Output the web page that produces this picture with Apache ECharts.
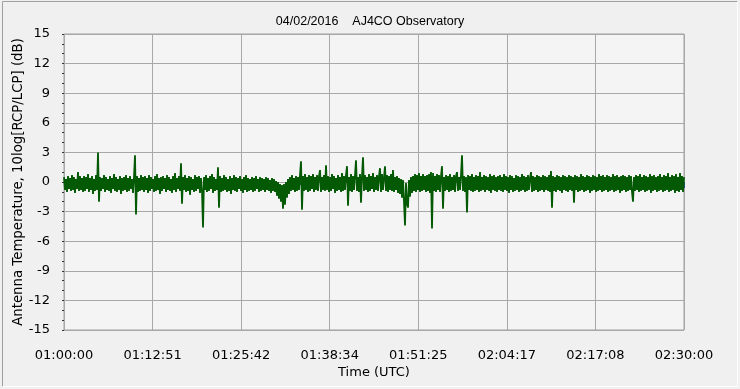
<!DOCTYPE html>
<html>
<head>
<meta charset="utf-8">
<script src="https://cdn.jsdelivr.net/npm/echarts@6/dist/echarts.min.js"></script>
<style>
html,body{margin:0;padding:0;background:#f0f0f0;}
#chart{width:740px;height:389px;}
</style>
</head>
<body>
<div id="chart"></div>
<script>
// Chart text
var titleText = '04/02/2016    AJ4CO Observatory';
var yAxisTitle = 'Antenna Temperature, 10log[RCP/LCP] (dB)';
var xAxisTitle = 'Time (UTC)';
var startTime = '01:00:00';
var spanSeconds = 5400;           // 01:00:00 -> 02:30:00
var xTickCount = 7;               // label intervals
var yMin = -15, yMax = 15, yStep = 3;

// Antenna temperature (dB), evenly sampled from 01:00:00 to 02:30:00
var values = [
0.5,-0.8,0.3,-1.0,0.6,-0.7,0.4,-0.9,0.7,-0.8,0.5,-1.1,0.3,-0.7,1.0,-0.9,0.6,-0.8,0.4,-1.0,
0.6,-0.9,0.5,-0.7,0.8,-1.0,0.4,-0.8,0.6,-1.2,0.3,-0.9,0.7,-0.8,3.0,-2.0,0.5,-0.9,0.4,-0.7,
0.7,-1.0,0.5,-0.8,0.3,-0.9,0.6,-1.1,0.4,-0.7,0.8,-0.9,0.5,-1.0,0.3,-0.8,0.6,-1.2,0.4,-0.9,
0.5,-0.8,0.7,-1.0,0.4,-0.9,0.6,-0.7,0.3,-1.1,0.5,2.7,-3.3,0.6,-1.0,0.4,-0.9,0.7,-0.8,0.5,
-1.0,0.6,-0.8,0.4,-1.1,0.7,-0.9,0.5,-0.7,0.3,-1.0,0.6,-0.9,0.8,-0.8,0.4,-1.2,0.5,-0.9,0.6,
-0.7,0.4,-1.0,0.7,-0.8,0.5,-0.9,0.3,-1.1,0.6,-0.8,0.9,-1.0,0.4,-0.7,0.6,-0.9,1.9,-2.2,0.5,
-0.8,0.7,-1.0,0.4,-0.9,0.6,-1.3,0.5,-0.8,0.3,-1.0,0.7,-0.9,0.5,-0.7,0.6,-1.1,0.4,-0.9,-4.6,
0.5,-0.8,0.7,-1.0,0.4,-0.9,0.6,-0.7,0.8,-1.1,0.5,-0.9,0.3,-0.8,1.5,-2.6,0.6,-1.0,0.4,-0.9,
0.7,-0.8,0.5,-1.0,0.3,-0.9,0.6,-1.2,0.4,-0.8,0.7,-0.9,0.5,-1.0,0.4,-0.7,0.6,-0.9,0.3,-1.1,
0.5,-0.8,0.7,-1.0,0.4,-0.9,0.3,-0.8,0.5,-1.0,0.4,-0.9,0.6,-0.7,0.3,-1.0,0.5,-0.9,0.4,-0.8,
0.3,-1.0,0.5,-0.8,0.4,-0.9,0.2,-1.1,0.4,-0.9,0.3,-1.0,0.1,-1.4,0.0,-1.7,-0.2,-2.0,-0.3,-2.7,
-0.2,-2.3,0.0,-1.6,0.3,-1.2,0.5,-0.9,0.7,-0.8,0.4,-1.0,0.6,-0.9,0.5,-0.8,0.7,2.1,-2.8,0.6,
-0.9,0.8,-0.8,0.5,-1.0,0.7,-0.9,0.6,-0.7,0.8,-1.0,0.5,-0.8,0.7,-0.9,0.6,1.2,-1.0,0.5,-0.8,
0.7,-0.9,1.7,-0.8,0.6,-1.0,0.5,-0.9,0.8,-0.7,0.6,-1.1,0.4,-0.9,0.7,-0.8,0.5,-1.0,0.9,-0.9,
0.6,-0.8,0.7,1.6,-2.4,0.5,-0.9,0.8,-1.0,0.6,-0.8,0.7,2.2,-0.9,0.5,-1.0,0.8,-2.1,0.6,2.5,
-0.9,0.7,-0.8,0.5,-1.0,0.8,-0.9,0.6,-0.7,0.9,-1.0,0.5,-0.8,0.7,-0.9,0.6,1.4,-1.0,0.8,-0.8,
0.5,1.6,-0.9,0.7,-1.0,0.6,-0.8,0.8,-0.9,1.2,-1.0,0.5,-0.8,0.6,-1.1,0.4,-1.2,0.3,-1.6,0.2,
-2.0,-4.4,-0.1,-2.2,-2.6,0.2,-1.5,0.5,-1.1,0.6,-0.9,0.8,-1.0,0.7,-0.8,0.9,-1.0,0.6,-0.9,0.8,
-0.8,0.6,-1.0,0.7,-0.9,0.8,-1.1,1.0,-4.7,0.9,-0.9,0.6,-1.0,0.8,-0.8,0.7,-1.0,0.6,1.6,-2.7,
0.5,-0.9,0.7,-0.8,0.6,-1.0,0.8,-0.9,0.5,-0.8,0.7,-1.0,0.6,1.0,-0.9,0.5,-0.8,0.7,2.7,-0.9,
0.6,-1.0,0.5,-3.1,0.7,-0.8,0.6,-0.9,0.8,-1.0,0.5,-0.9,0.7,-0.8,0.6,-1.0,1.0,-0.9,0.5,-0.8,
0.7,-1.0,0.6,-0.8,0.5,-0.9,0.8,-1.1,0.6,-0.8,0.7,-0.9,0.5,-1.0,0.6,-0.8,0.7,-0.9,0.5,-1.0,
0.8,-0.8,0.6,-0.9,0.5,-1.1,0.7,-0.8,0.6,-1.0,0.4,-0.9,0.7,-0.8,0.6,-1.0,0.5,-0.9,0.8,-0.8,
0.6,-1.0,0.5,-0.9,0.7,-0.8,0.4,1.0,-1.0,0.6,-0.9,0.5,-0.8,0.7,-1.0,0.6,-0.9,0.5,-0.8,0.7,
-1.0,0.6,-0.8,0.5,-0.9,0.7,-1.0,1.1,-2.6,0.6,-0.9,0.5,-1.0,0.7,-0.8,0.6,-0.9,0.5,-1.1,0.7,
-0.8,0.6,-0.9,0.5,-1.0,0.7,-0.8,0.6,-0.9,0.5,-2.1,0.7,-0.8,0.6,-1.0,0.5,-0.9,0.8,-0.8,0.6,
-1.0,0.5,-0.9,0.7,-0.8,0.6,-1.1,0.5,-0.9,0.7,-0.8,0.6,-1.0,0.5,-0.9,0.8,-0.8,0.6,-1.0,0.7,
-0.9,0.5,-0.8,0.7,-1.0,0.6,-0.9,0.5,-0.8,0.8,-1.0,0.6,-0.9,0.7,-0.8,0.5,-1.1,0.6,-0.9,0.7,
-0.8,0.6,-1.0,0.5,-0.9,0.7,-0.8,0.6,-1.0,-2.0,0.5,-0.9,0.7,-0.8,0.6,-1.0,0.8,-0.9,0.5,-0.8,
0.7,-1.0,0.6,-0.9,0.5,-0.8,0.8,-1.1,0.6,-0.9,0.7,-0.8,0.5,-1.0,0.6,-0.9,0.8,-0.8,0.5,-1.0,
0.7,-0.9,0.6,-0.8,0.9,-1.0,0.5,-0.9,0.7,-0.8,0.6,-1.1,0.8,-0.9,0.5,-1.0,0.9,-0.8,0.6,-1.0,
0.5
];

// x axis works in units of one minor tick division (7 labels x 6 divisions)
var minorPerMajor = 6;
var unitsMax = xTickCount * minorPerMajor;
var secPerUnit = spanSeconds / unitsMax;

var seriesData = values.map(function (v, i) {
  var sec = i * spanSeconds / (values.length - 1);
  return [sec / secPerUnit, v];
});

function pad(n){ return (n < 10 ? '0' : '') + n; }
var st = startTime.split(':').map(Number);
var startSec = st[0]*3600 + st[1]*60 + st[2];
function fmtTime(u) {
  var s = Math.floor(u * secPerUnit + 1e-6) + startSec;
  return pad(Math.floor(s/3600)) + ':' + pad(Math.floor((s%3600)/60)) + ':' + pad(s%60);
}

var chart = echarts.init(document.getElementById('chart'), null, {renderer: 'canvas'});
var labelFont = 'DejaVu Sans';
chart.setOption({
  backgroundColor: '#f0f0f0',
  animation: false,
  title: {
    text: titleText,
    left: 'center',
    top: 10,
    textStyle: {fontFamily: 'Liberation Sans', fontSize: 12.5, fontWeight: 'normal', color: '#000'}
  },
  graphic: [
    {type: 'line', shape: {x1: 2.5, y1: 1.5, x2: 737.5, y2: 1.5}, style: {stroke: '#a0a0a0', lineWidth: 1}},
    {type: 'line', shape: {x1: 2.5, y1: 1.5, x2: 2.5, y2: 386.5}, style: {stroke: '#a0a0a0', lineWidth: 1}},
    {type: 'line', shape: {x1: 737.5, y1: 1.5, x2: 737.5, y2: 386.5}, style: {stroke: '#ffffff', lineWidth: 1}},
    {type: 'line', shape: {x1: 2.5, y1: 386.5, x2: 737.5, y2: 386.5}, style: {stroke: '#ffffff', lineWidth: 1}}
  ],
  grid: {
    left: 64, right: 56, top: 34, bottom: 59,
    show: true, borderColor: '#a0a0a0', borderWidth: 1, backgroundColor: '#f4f4f4'
  },
  xAxis: {
    type: 'value',
    min: 0, max: unitsMax, interval: minorPerMajor,
    offset: 6,
    axisLine: {show: false},
    axisTick: {show: true, length: 6, lineStyle: {color: '#2a4f8a', width: 1}},
    minorTick: {show: true, splitNumber: minorPerMajor, length: 3, lineStyle: {color: '#2a4f8a', width: 1}},
    splitLine: {show: true, lineStyle: {color: '#a8a8a8', width: 1}},
    axisLabel: {
      margin: 13, color: '#000', fontFamily: labelFont, fontSize: 13,
      formatter: function (v) { return fmtTime(v); }
    },
    name: xAxisTitle, nameLocation: 'middle', nameGap: 30, nameMoveOverlap: false,
    nameTextStyle: {color: '#000', fontFamily: labelFont, fontSize: 13}
  },
  yAxis: {
    type: 'value',
    min: yMin, max: yMax, interval: yStep,
    offset: 4,
    axisLine: {show: false},
    axisTick: {show: true, length: 2, lineStyle: {color: '#333', width: 1}},
    minorTick: {show: true, splitNumber: 3, length: 2, lineStyle: {color: '#333', width: 1}},
    splitLine: {show: true, lineStyle: {color: '#a8a8a8', width: 1}},
    axisLabel: {margin: 10, color: '#000', fontFamily: labelFont, fontSize: 13},
    name: yAxisTitle, nameLocation: 'middle', nameGap: 35, nameRotate: 90, nameMoveOverlap: false,
    nameTextStyle: {color: '#000', fontFamily: labelFont, fontSize: 13.3}
  },
  series: [{
    type: 'line',
    data: seriesData,
    showSymbol: false,
    sampling: null,
    lineStyle: {color: '#045a04', width: 1.8},
    itemStyle: {color: '#045a04'},
    emphasis: {disabled: true}
  }]
});
</script>
</body>
</html>
